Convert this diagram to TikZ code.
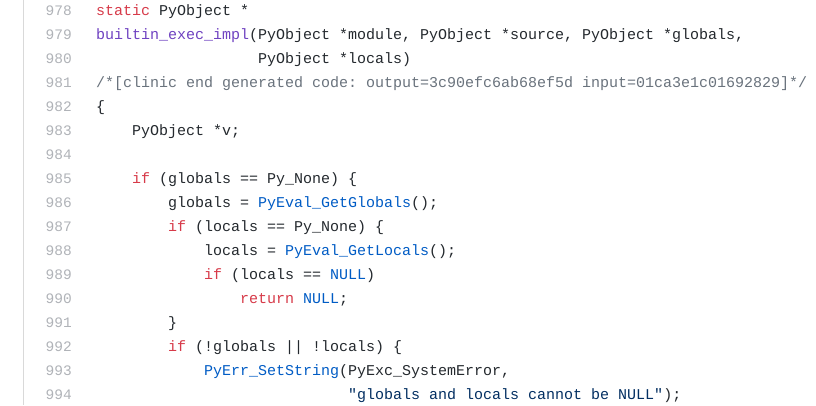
\documentclass[tikz,border=0pt]{standalone}
\usepackage{fontspec}
\setmonofont{Liberation Mono}
\definecolor{ckw}{HTML}{D73A49}
\definecolor{cfn}{HTML}{6F42C1}
\definecolor{cbl}{HTML}{005CC5}
\definecolor{cst}{HTML}{032F62}
\definecolor{ccm}{HTML}{6A737D}
\definecolor{cln}{HTML}{B0B3B8}
\definecolor{ctx}{HTML}{24292E}
\newcommand{\Kw}[1]{\textcolor{ckw}{#1}}
\newcommand{\Fn}[1]{\textcolor{cfn}{#1}}
\newcommand{\Bl}[1]{\textcolor{cbl}{#1}}
\newcommand{\St}[1]{\textcolor{cst}{#1}}
\newcommand{\Cm}[1]{\textcolor{ccm}{#1}}
\begin{document}
\begin{tikzpicture}[x=1pt,y=-1pt,
  codeline/.style={anchor=base west,inner sep=0pt,font=\fontsize{15}{15}\selectfont\ttfamily,text=ctx},
  lnum/.style={anchor=base east,inner sep=0pt,font=\fontsize{14.5}{15}\selectfont\ttfamily,text=cln}]
\useasboundingbox (0,0) rectangle (816,405);
\fill[white] (0,0) rectangle (816,405);
\draw[color=black!15,line width=1pt] (23.5,0) -- (23.5,405);
\foreach \n [count=\i from 0] in {978,...,994}
  \node[lnum] (ln\n) at (72,15+24*\i) {\n};
\newcommand{\Ln}[3]{\node[codeline] (c#1) at (96+9*#2,{15+24*(#1-978)}) {#3};}
\Ln{978}{0}{\Kw{static} PyObject *}
\Ln{979}{0}{\Fn{builtin\_exec\_impl}(PyObject *module, PyObject *source, PyObject *globals,}
\Ln{980}{18}{PyObject *locals)}
\Ln{981}{0}{\Cm{/*[clinic end generated code: output=3c90efc6ab68ef5d input=01ca3e1c01692829]*/}}
\Ln{982}{0}{\{}
\Ln{983}{4}{PyObject *v;}
\Ln{985}{4}{\Kw{if} (globals == Py\_None) \{}
\Ln{986}{8}{globals = \Bl{PyEval\_GetGlobals}();}
\Ln{987}{8}{\Kw{if} (locals == Py\_None) \{}
\Ln{988}{12}{locals = \Bl{PyEval\_GetLocals}();}
\Ln{989}{12}{\Kw{if} (locals == \Bl{NULL})}
\Ln{990}{16}{\Kw{return} \Bl{NULL};}
\Ln{991}{8}{\}}
\Ln{992}{8}{\Kw{if} (!globals || !locals) \{}
\Ln{993}{12}{\Bl{PyErr\_SetString}(PyExc\_SystemError,}
\Ln{994}{28}{\St{"globals and locals cannot be NULL"});}
\end{tikzpicture}
\end{document}
